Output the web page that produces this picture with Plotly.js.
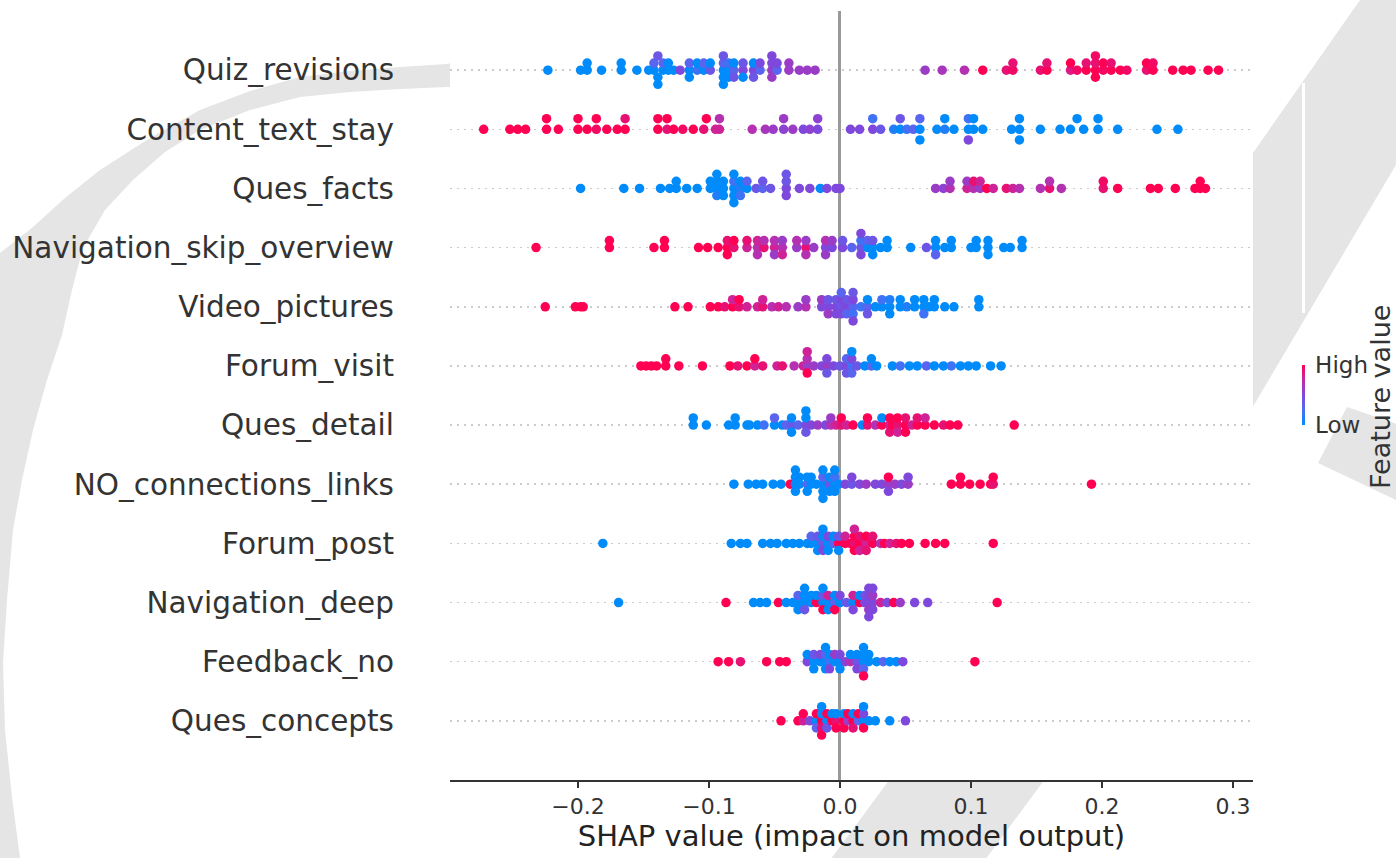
<!DOCTYPE html>
<html><head><meta charset="utf-8">
<script src="https://cdn.plot.ly/plotly-3.0.1.min.js"></script>
<style>html,body{margin:0;padding:0;background:#fff;}#chart{width:1396px;height:858px;}</style>
</head><body><div id="chart"></div>
<script>
// Feature names, top to bottom
const features = ["Quiz_revisions","Content_text_stay","Ques_facts","Navigation_skip_overview","Video_pictures","Forum_visit","Ques_detail","NO_connections_links","Forum_post","Navigation_deep","Feedback_no","Ques_concepts"];
const xTickVals = [-0.2,-0.1,0.0,0.1,0.2,0.3];
const xTickText = ["\u22120.2","\u22120.1","0.0","0.1","0.2","0.3"];

// Each entry: [SHAP value, [normalized feature value of every sample that has this SHAP value]]
const Quiz_revisions = [
[-0.223,[0]],[-0.198,[0]],[-0.193,[0,0]],[-0.182,[0]],[-0.167,[0,0]],[-0.155,[0]],
[-0.146,[0]],[-0.142,[0,0.3]],[-0.139,[0,0.4,0]],[-0.135,[0,0.3]],[-0.131,[0,0]],[-0.127,[0]],
[-0.122,[0.5]],[-0.115,[0,0.3,0]],[-0.109,[0.2,0]],[-0.104,[0,0.3]],[-0.099,[0.4,0]],
[-0.089,[0,0.3,0,0.4,0]],[-0.085,[0,0.2,0]],[-0.081,[0.3,0,0.4]],
[-0.074,[0.5,0.4,0]],[-0.066,[0.5,0,0.4]],[-0.061,[0.3,0.5]],
[-0.052,[0.6,0.5,0.6,0.5]],[-0.048,[0.3,0.5]],[-0.039,[0.6,0.6]],
[-0.031,[0.6]],[-0.025,[0.6]],[-0.019,[0.6]],
[0.065,[0.6]],[0.078,[0.65]],[0.095,[0.7]],[0.109,[1]],[0.127,[0.9]],[0.132,[0.95,0.9]],
[0.153,[0.9]],[0.158,[1,0.9]],[0.176,[0.85,1]],[0.181,[0.95]],[0.188,[1,0.9]],[0.195,[1,0.9,1,0.95]],[0.201,[0.95,1]],[0.207,[1,0.9]],[0.214,[1]],[0.219,[0.95]],
[0.234,[0.9,1]],[0.239,[1,0.95]],[0.254,[1]],[0.262,[1]],[0.268,[1]],[0.281,[1]],[0.289,[1]]];

const Content_text_stay = [
[-0.272,[1]],[-0.252,[1]],[-0.246,[1]],[-0.240,[1]],[-0.224,[1,1]],[-0.215,[1]],
[-0.200,[1,1]],[-0.193,[1]],[-0.186,[0.95,1]],[-0.178,[1]],[-0.170,[1]],[-0.164,[1,0.9]],
[-0.139,[1,1]],[-0.132,[0.9,1]],[-0.127,[1]],[-0.120,[0.95]],[-0.112,[1]],[-0.104,[0.9]],[-0.102,[1]],
[-0.095,[0.8]],[-0.092,[0.8,0.7]],[-0.067,[0.7]],[-0.057,[0.65]],[-0.051,[0.6]],
[-0.043,[0.55,0.6]],[-0.036,[0.6]],[-0.028,[0.5]],[-0.023,[0.55]],[-0.017,[0.5,0.55]],
[0.008,[0.5]],[0.015,[0.5]],[0.025,[0.5,0.2]],[0.031,[0.4]],
[0.041,[0.1]],[0.046,[0,0.4]],[0.051,[0.2]],[0.056,[0.3]],[0.061,[0,0.3,0]],
[0.074,[0]],[0.080,[0.1,0]],[0.087,[0]],[0.098,[0,0.2,0.5]],[0.102,[0,0]],
[0.109,[0]],[0.131,[0]],[0.137,[0,0,0]],[0.153,[0]],
[0.168,[0]],[0.176,[0]],[0.181,[0]],[0.186,[0]],[0.197,[0,0]],[0.212,[0]],[0.242,[0]],[0.258,[0]]];

const Ques_facts = [
[-0.198,[0]],[-0.165,[0]],[-0.153,[0]],
[-0.137,[0]],[-0.130,[0]],[-0.125,[0,0]],[-0.117,[0]],[-0.109,[0]],
[-0.099,[0,0]],[-0.094,[0,0,0.1,0]],[-0.089,[0,0,0]],[-0.081,[0,0.2,0,0,0]],[-0.076,[0.1,0,0.2]],[-0.071,[0,0.3]],
[-0.064,[0.4]],[-0.059,[0.3,0.4]],[-0.053,[0.4]],[-0.041,[0.5,0.4,0.5,0.4]],
[-0.031,[0.5]],[-0.023,[0.5]],[-0.015,[0]],[-0.010,[0.5]],[-0.003,[0.5]],[0.000,[0.5]],
[0.073,[0.6]],[0.079,[0.55]],[0.084,[0.7,0.6]],
[0.097,[0.8,0.6]],[0.102,[0.7,0.9]],[0.107,[0.6,0.8]],[0.112,[1]],[0.117,[0.8]],
[0.127,[0.9]],[0.132,[0.8]],[0.137,[0.7]],[0.153,[0.7]],[0.160,[0.9,0.7]],[0.169,[0.7]],
[0.201,[0.9,0.95]],[0.212,[1]],[0.237,[1]],[0.243,[1]],[0.256,[1]],[0.271,[1]],[0.275,[1,1]],[0.279,[1]]];

const Navigation_skip_overview = [
[-0.232,[1]],[-0.176,[1,1]],[-0.142,[1]],[-0.134,[1,1]],
[-0.108,[1]],[-0.101,[1]],[-0.093,[1]],[-0.086,[1,0.9,1]],[-0.081,[0.9,1]],
[-0.071,[0.8,0.9]],[-0.063,[0.7,0.8,0.7]],[-0.058,[0.9,0.7]],[-0.050,[0.8,0.7,0.6]],[-0.044,[0.7,0.6,0.8]],
[-0.033,[0.6,0.7]],[-0.026,[0.9,0.6,0.7]],[-0.020,[0.6]],[-0.011,[0.5,0.7,0.6]],[-0.006,[0.5,0.6]],
[0.002,[0.5,0.4]],[0.009,[0.3]],[0.016,[0.4,0.2,0.5,0.5]],[0.021,[0,0.3]],[0.025,[0,0.4,0]],
[0.031,[0]],[0.036,[0,0]],[0.054,[0]],
[0.066,[0.4]],[0.073,[0,0,0.3]],[0.080,[0]],[0.085,[0,0]],
[0.100,[0]],[0.104,[0,0]],[0.113,[0,0,0]],[0.125,[0]],[0.130,[0]],[0.139,[0,0]]];

const Video_pictures = [
[-0.225,[1]],[-0.202,[1]],[-0.198,[1]],[-0.196,[1]],[-0.126,[1]],[-0.116,[1]],
[-0.099,[1]],[-0.093,[1]],[-0.088,[0.9]],[-0.082,[1,0.8]],[-0.077,[0.9,1]],[-0.071,[0.8]],
[-0.063,[0.8]],[-0.059,[0.9,0.8]],[-0.052,[0.7]],[-0.047,[0.8]],[-0.041,[0.7]],
[-0.032,[0.6]],[-0.026,[0.7,0.6]],
[-0.014,[0.5,0.6]],[-0.009,[0.5,0.4,0.6]],[-0.003,[0.5,0.4,0.5]],[0.001,[0.4,0.5,0.5,0.3]],[0.005,[0.5,0.4,0.3]],[0.010,[0.3,0.5,0.2,0.4,0.5]],
[0.016,[0.2]],[0.021,[0.3,0,0.4]],[0.027,[0]],[0.032,[0,0.2]],[0.038,[0,0.1,0]],
[0.046,[0,0]],[0.051,[0.1]],[0.057,[0,0]],[0.064,[0,0,0.2]],[0.068,[0]],[0.072,[0,0]],
[0.080,[0]],[0.087,[0]],[0.106,[0,0]]];

const Forum_visit = [
[-0.152,[1]],[-0.148,[1]],[-0.144,[1]],[-0.140,[1]],[-0.133,[1,1]],[-0.123,[1]],[-0.105,[1]],
[-0.084,[1]],[-0.078,[0.9]],[-0.071,[1]],[-0.065,[0.8,1]],[-0.059,[0.9]],
[-0.048,[0.8]],[-0.044,[0.9]],[-0.035,[0.7]],[-0.028,[0.8]],[-0.025,[0.6,0.7,1,0.8]],
[-0.020,[0.6]],[-0.014,[0.5]],[-0.010,[0.6,0.5,0.4]],[-0.005,[0.5]],
[0.000,[0.4]],[0.005,[0.5,0.3,0.4]],[0.009,[0.2,0.5,0.3,0]],[0.013,[0.4]],[0.019,[0]],[0.024,[0.3,0]],[0.028,[0]],
[0.040,[0]],[0.046,[0.2]],[0.053,[0]],[0.059,[0]],[0.066,[0.3]],
[0.072,[0]],[0.079,[0]],[0.085,[0.2]],[0.092,[0]],[0.098,[0]],[0.104,[0]],[0.115,[0]],[0.123,[0]]];

const Ques_detail = [
[-0.112,[0,0]],[-0.102,[0]],[-0.085,[0]],[-0.080,[0,0]],[-0.071,[0]],[-0.069,[0]],
[-0.063,[0]],[-0.058,[0.2]],[-0.050,[0,0.3]],[-0.044,[0]],[-0.041,[0.3]],
[-0.037,[0.4,0,0]],[-0.032,[0.3]],[-0.026,[0.5,0,0.4,0]],[-0.022,[0.5]],
[-0.017,[0.6]],[-0.011,[0.5]],[-0.007,[0.7,0.6]],[-0.003,[0.8]],
[0.001,[0.9,1]],[0.005,[0.8]],[0.010,[1]],
[0.017,[0]],[0.021,[0.9,1]],[0.027,[0.7]],[0.032,[1,0]],[0.038,[0.8,1,0.9]],[0.040,[1]],
[0.044,[0.9,1,0.8]],[0.050,[1,0.9,1]],[0.055,[0.8]],[0.059,[1,0.9]],[0.065,[1,0.8]],
[0.072,[1]],[0.079,[0.9]],[0.084,[1]],[0.090,[1]],[0.133,[1]]];

const NO_connections_links = [
[-0.081,[0]],[-0.070,[0]],[-0.064,[0]],[-0.059,[0]],[-0.051,[0]],[-0.045,[0]],[-0.038,[1]],
[-0.034,[0,0,0,0]],[-0.031,[0,0]],[-0.025,[0.3,0,0]],[-0.022,[0,0]],
[-0.018,[0]],[-0.013,[0,0.3,0,0,0]],[-0.008,[0.4,0,0]],[-0.004,[0,0.2,0,0]],[-0.001,[0]],
[0.004,[0.5]],[0.009,[0.4,0.5]],[0.015,[0.5]],[0.020,[0.6]],[0.027,[0.5]],
[0.032,[0.5]],[0.037,[0.6,1,0.5]],[0.042,[0.6]],[0.047,[0.5]],[0.052,[0.6,0.5]],
[0.085,[1]],[0.092,[1,1]],[0.099,[1]],[0.107,[1]],[0.115,[1]],[0.117,[0.9,1]],[0.192,[1]]];

const Forum_post = [
[-0.181,[0]],[-0.083,[0]],[-0.076,[0]],[-0.071,[0]],[-0.059,[0]],[-0.053,[0]],[-0.048,[0]],
[-0.041,[0]],[-0.036,[0]],[-0.031,[0]],[-0.025,[0]],
[-0.022,[0,0.3]],[-0.017,[0,0.4,0]],[-0.013,[0.4,0,0.5,0]],[-0.009,[0,0.5,0]],[-0.005,[0.3,0]],[-0.001,[1,0.4,0]],
[0.004,[1,0.8]],[0.008,[1]],[0.011,[0.9,1,1,0.8]],[0.015,[1,0.9,0.8]],[0.020,[0.8,1,0.9]],[0.025,[1,0.9]],[0.031,[0.7]],
[0.034,[1]],[0.038,[0.8]],[0.043,[0.9]],[0.047,[1]],[0.053,[1]],
[0.065,[1]],[0.073,[1]],[0.080,[1]],[0.117,[1]]];

const Navigation_deep = [
[-0.169,[0]],[-0.087,[1]],[-0.066,[0]],[-0.061,[0]],[-0.056,[0]],[-0.047,[1]],
[-0.041,[0]],[-0.036,[0]],[-0.032,[0,0.3,0]],[-0.027,[0,0,0.4,0]],[-0.022,[0,0]],
[-0.018,[1,0]],[-0.013,[0,0.4,1,0]],[-0.009,[0,0.8,0]],[-0.004,[0.3,0,1]],[0.000,[0,0.5]],
[0.005,[0.4]],[0.010,[0,0.8,0.5]],[0.015,[1,0]],[0.019,[0.5,0.4]],
[0.022,[0.5,0.5,0.6,0.5,0.5]],[0.025,[0.5,0.6,0.5,0.5]],
[0.031,[0.8]],[0.036,[0.5]],[0.041,[1]],[0.046,[0.6]],[0.057,[0.5]],[0.067,[0.5]],[0.120,[1]]];

const Feedback_no = [
[-0.093,[1]],[-0.085,[1]],[-0.076,[0.9]],[-0.056,[1]],[-0.046,[1]],[-0.041,[1]],
[-0.025,[0.5,0]],[-0.020,[0,0.4,0]],[-0.015,[0,0.5]],
[-0.011,[0,0.3,0,0]],[-0.008,[0.2,0,0.5]],[-0.004,[0,0.6]],[0.000,[0,0.5,0]],
[0.004,[0.5]],[0.008,[0.7,0]],[0.013,[0.4,0,0.5]],[0.018,[0,0,0.3,0,1]],[0.022,[0,0]],
[0.028,[0]],[0.033,[0.3]],[0.038,[0]],[0.043,[0]],[0.048,[0.5]],[0.103,[1]]];

const Ques_concepts = [
[-0.045,[1]],[-0.032,[1]],[-0.028,[0.8,1]],[-0.023,[0.5]],
[-0.018,[0,1,0.3]],[-0.014,[1,0,0.9,0,1]],[-0.010,[0,1,0.4]],[-0.006,[1,0]],[-0.003,[0.9,0,1]],
[0.003,[1,0,1]],[0.006,[0.6,1]],[0.010,[1,0,0.9]],[0.014,[0.3,1]],[0.018,[0,0.5,1,0]],
[0.022,[0]],[0.027,[0]],[0.038,[0]],[0.050,[0.5]]];

const rowsData = [Quiz_revisions,Content_text_stay,Ques_facts,Navigation_skip_overview,Video_pictures,Forum_visit,Ques_detail,NO_connections_links,Forum_post,Navigation_deep,Feedback_no,Ques_concepts];

// SHAP-style beeswarm vertical layout (computed from the x values)
function swarm(xs){
  const N=xs.length, nbins=100;
  const mn=Math.min(...xs), mx=Math.max(...xs);
  const quant=xs.map(v=>Math.round(nbins*(v-mn)/(mx-mn+1e-8)));
  const inds=[...Array(N).keys()].sort((a,b)=>(quant[a]-quant[b])||(a-b));
  let layer=0,last=-1; const ys=new Array(N).fill(0);
  for(const i of inds){ if(quant[i]!==last) layer=0; ys[i]=Math.ceil(layer/2)*((layer%2)*2-1); layer++; last=quant[i]; }
  const m=Math.max(...ys)+1; return ys.map(v=>v*0.9*(0.4/m));
}

const colorscale=[[0,'#008bfb'],[0.25,'#4f6cf2'],[0.5,'#7f48dc'],[0.75,'#c42aa8'],[1,'#ff0052']];
const nRows=features.length;
const traces=rowsData.map((row,r)=>{
  const xs=[], fv=[];
  row.forEach(e=>e[1].forEach(f=>{xs.push(e[0]); fv.push(f);}));
  const pos=nRows-1-r; const off=swarm(xs);
  return {type:'scatter',mode:'markers',x:xs,y:off.map(o=>pos+o),hoverinfo:'skip',
    marker:{size:9.5,color:fv,colorscale:colorscale,cmin:0,cmax:1,line:{width:0},
      showscale:r===0,
      colorbar: r===0?{x:(1302-450)/803,xanchor:'left',xpad:0,y:(780-395)/769,yanchor:'middle',ypad:0,
        len:60,lenmode:'pixels',thickness:3,outlinewidth:0,tickvals:[0,1],ticktext:['Low','High'],
        ticks:'outside',ticklen:6,tickcolor:'rgba(0,0,0,0)',tickfont:{family:'DejaVu Sans',size:23,color:'#333333'}}:undefined},
    showlegend:false};
});

// background grey watermark shapes (pixel coords -> paper coords)
const L=450,R=1253,T=11,B=780;
function P(x,y){return ((x-L)/(R-L)).toFixed(5)+','+((B-y)/(B-T)).toFixed(5);}
function pathFrom(pts){return 'M'+pts.map(p=>P(p[0],p[1])).join('L')+'Z';}
const arc=[[452,63],[447,64],[400,67],[350,71],[300,77],[250,91],[200,110],[150,138],[100,170],[65,198],[33,227],[0,253],[-5,258],
[-5,865],[21,865],[20,858],[12,797],[5,730],[3,663],[7,600],[13,530],[22,480],[33,430],[47,380],[62,335],[72,290],[83,248],[105,210],[133,180],[165,152],[200,130],[250,110],[300,97],[350,92],[400,89],[447,87],[452,87]];
const grey='#e5e5e5';
const shapes=[
 {type:'path',xref:'paper',yref:'paper',path:pathFrom(arc),fillcolor:grey,line:{width:0},layer:'below'},
 {type:'path',xref:'paper',yref:'paper',path:pathFrom([[1248,160],[1360,0],[1400,-3],[1400,158],[1248,415]]),fillcolor:grey,line:{width:0},layer:'below'},
 {type:'path',xref:'paper',yref:'paper',path:pathFrom([[1347,407],[1400,425],[1400,502],[1318,463]]),fillcolor:grey,line:{width:0},layer:'below'},
 {type:'path',xref:'paper',yref:'paper',path:pathFrom([[890,779],[1045,779],[985,860],[830,860]]),fillcolor:grey,line:{width:0},layer:'below'},
 {type:'line',xref:'paper',yref:'paper',x0:(1303.5-L)/(R-L),x1:(1303.5-L)/(R-L),y0:(B-83)/(B-T),y1:(B-313)/(B-T),line:{color:'#ffffff',width:3},layer:'below'},
 {type:'rect',xref:'paper',yref:'paper',x0:0,x1:1,y0:0,y1:1,fillcolor:'#ffffff',line:{width:0},layer:'below'}
];

const layout={
  width:1396,height:858,margin:{l:L,r:1396-R,t:T,b:858-B},
  paper_bgcolor:'#ffffff',plot_bgcolor:'#ffffff',hovermode:false,
  font:{family:'DejaVu Sans',color:'#333333'},
  xaxis:{range:[-0.2977,0.3153],tickvals:xTickVals,ticktext:xTickText,showgrid:false,
    zeroline:true,zerolinecolor:'#999999',zerolinewidth:3,
    showline:true,linecolor:'#333333',linewidth:1.5,ticks:'outside',ticklen:6,tickwidth:1.5,tickcolor:'#333333',
    tickfont:{size:22,color:'#333333'},
    title:{text:'SHAP value (impact on model output)',font:{size:29,color:'#222222'},standoff:6}},
  yaxis:{range:[-1,12],tickvals:features.map((f,i)=>nRows-1-i),ticktext:features,showline:false,zeroline:false,
    ticks:'',showgrid:true,gridcolor:'#cccccc',gridwidth:1.5,griddash:'2px,5px',ticklabelstandoff:55,
    tickfont:{size:29.5,color:'#333333'}},
  shapes:shapes,
  annotations:[{text:'Feature value',xref:'paper',yref:'paper',x:(1380-L)/(R-L),y:(B-397)/(B-T),xanchor:'center',yanchor:'middle',
    textangle:-90,showarrow:false,font:{size:27,color:'#333333'}}]
};
Plotly.newPlot('chart',traces,layout,{displayModeBar:false,staticPlot:true});
</script></body></html>
